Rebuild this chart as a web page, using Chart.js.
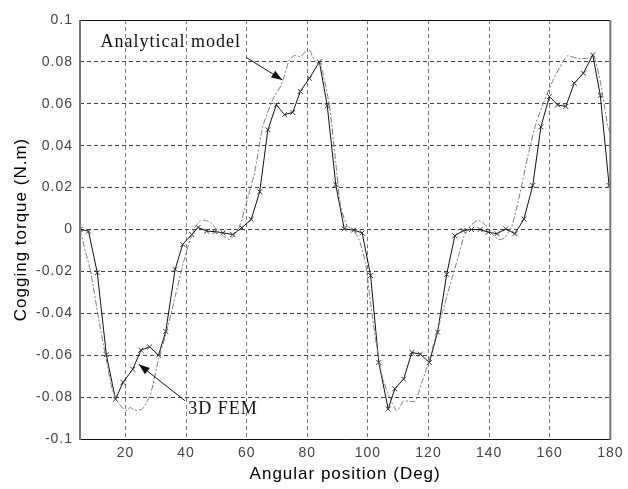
<!DOCTYPE html>
<html>
<head>
<meta charset="utf-8">
<script src="https://cdn.jsdelivr.net/npm/chart.js@4.4.0/dist/chart.umd.min.js"></script>
<style>
  html, body { margin: 0; padding: 0; background: #fff; }
  #wrap { width: 628px; height: 489px; }
</style>
</head>
<body>
<div id="wrap"><canvas id="myChart" width="628" height="489"></canvas></div>
<script>
// valeurs
const femAngle = [5, 7.8, 10.7, 13.7, 16.7, 19.2, 22.4, 25.1, 28, 30.9, 33.3, 36.4, 38.9, 41.9, 44,
  46.8, 49.5, 52.2, 55.4, 58.4, 61.5, 64.3, 67, 69.8, 72.5, 75.2, 77.7, 80.7, 84, 86.6,
  89.4, 92.2, 95.3, 98.1, 100.9, 103.6, 106.7, 108.9, 111.8, 114.5, 117.3, 120.3, 123, 126, 128.7,
  131.4, 134.2, 137, 139.7, 142.6, 145.5, 148.5, 151.5, 154.4, 157.1, 159.9, 162.6, 165.3, 168.1, 171.1,
  174.2, 176.7, 179.6];
const femTorque = [0, -0.0008, -0.0206, -0.0598, -0.081, -0.073, -0.0667, -0.0576, -0.056, -0.060, -0.0487, -0.019, -0.0071, -0.0024, 0.001,
  -0.0008, -0.001, -0.0016, -0.0024, 0.0008, 0.0048, 0.018, 0.0476, 0.0595, 0.0548, 0.0559, 0.0659, 0.0722, 0.080, 0.059,
  0.0214, 0.0003, -0.0003, -0.0016, -0.022, -0.0635, -0.0857, -0.076, -0.0714, -0.0587, -0.0595, -0.0635, -0.049, -0.0214, -0.003,
  -0.0005, 0, 0, -0.0013, -0.002, 0.0003, -0.002, 0.005, 0.021, 0.049, 0.0635, 0.0595, 0.0587, 0.0698, 0.0746,
  0.0833, 0.064, 0.021];

const modelAngle = [5, 6.9, 8.5, 11.2, 13.4, 15.6, 17.3, 20, 21.6, 23, 25.5, 28.2, 30.9, 33.7, 36.4,
  39.1, 41.3, 43, 44.6, 46.2, 48.4, 50, 52.2, 54.4, 56, 57.7, 59.9, 62.6, 65.3, 68.6,
  71.4, 74.1, 75.7, 77.9, 80.3, 82.3, 84.5, 87.2, 89.4, 91, 93.2, 95, 97.1, 99.2, 100.9,
  102.5, 104.7, 107.4, 109.6, 111.8, 113.4, 115.6, 117.8, 120, 122.2, 124.9, 127.6, 129.9, 131.5, 133.7,
  136.4, 138.6, 140.2, 143, 145.1, 147.5, 150, 152.8, 155.5, 158.3, 161, 164.3, 165.9, 169.2, 172.5,
  174.6, 176.8, 179.2, 180];
const modelTorque = [0, -0.011, -0.020, -0.043, -0.060, -0.076, -0.082, -0.0865, -0.085, -0.0862, -0.0857, -0.079, -0.062, -0.048, -0.032,
  -0.016, -0.005, 0.001, 0.004, 0.0044, 0.003, 0, -0.003, -0.0048, -0.0024, 0.0016, 0.0127, 0.027, 0.049, 0.062,
  0.069, 0.081, 0.083, 0.0825, 0.0865, 0.081, 0.0778, 0.060, 0.0318, 0.011, 0.0016, 0, -0.0048, -0.016, -0.035,
  -0.052, -0.070, -0.081, -0.0865, -0.0818, -0.082, -0.082, -0.073, -0.0635, -0.052, -0.038, -0.024, -0.0127, -0.004, 0.0016,
  0.0044, 0.0024, -0.0008, -0.0048, -0.004, 0.0016, 0.016, 0.035, 0.0508, 0.0617, 0.071, 0.080, 0.0829, 0.0817, 0.0817,
  0.0825, 0.0698, 0.049, 0.046];

const xTicks = [20, 40, 60, 80, 100, 120, 140, 160, 180];
const yTicks = [-0.1, -0.08, -0.06, -0.04, -0.02, 0, 0.02, 0.04, 0.06, 0.08, 0.1];

// étiquettes avec flèche (coordonnées en données)
const notes = [
  { text: 'Analytical model', x: 11.8, y: 0.0895, from: [60, 0.082], to: [71.8, 0.0714] },
  { text: '3D FEM', x: 40.7, y: -0.0857, from: [39.7, -0.0818], to: [24.4, -0.0643] }
];

const toPoints = (xs, ys) => xs.map((v, i) => ({ x: v, y: ys[i] }));

// cadre + annotations
const boxPlugin = {
  id: 'boxPlugin',
  beforeDraw(chart) {
    chart.ctx.letterSpacing = '1px';
  },
  afterDraw(chart) {
    const ctx = chart.ctx;
    const a = chart.chartArea;
    const xs = chart.scales.x, ys = chart.scales.y;
    ctx.save();
    ctx.letterSpacing = '0px';
    ctx.lineWidth = 1;
    ctx.strokeStyle = '#111';
    ctx.beginPath();
    ctx.moveTo(a.left, a.top + 0.5); ctx.lineTo(a.right, a.top + 0.5);
    ctx.moveTo(a.left, a.bottom + 0.5); ctx.lineTo(a.right, a.bottom + 0.5);
    ctx.stroke();
    ctx.strokeStyle = '#777';
    ctx.lineWidth = 2;
    ctx.beginPath();
    ctx.moveTo(a.left, a.top); ctx.lineTo(a.left, a.bottom + 1);
    ctx.moveTo(a.right, a.top); ctx.lineTo(a.right, a.bottom + 1);
    ctx.stroke();

    ctx.fillStyle = '#111';
    ctx.strokeStyle = '#111';
    ctx.lineWidth = 1;
    ctx.font = '18px "Liberation Serif", "Times New Roman", serif';
    ctx.textBaseline = 'middle';
    ctx.textAlign = 'left';
    notes.forEach(n => {
      ctx.letterSpacing = '1px';
      ctx.fillText(n.text, xs.getPixelForValue(n.x), ys.getPixelForValue(n.y));
      ctx.letterSpacing = '0px';
      const x1 = xs.getPixelForValue(n.from[0]), y1 = ys.getPixelForValue(n.from[1]);
      const x2 = xs.getPixelForValue(n.to[0]), y2 = ys.getPixelForValue(n.to[1]);
      const ang = Math.atan2(y2 - y1, x2 - x1);
      ctx.beginPath();
      ctx.moveTo(x1, y1); ctx.lineTo(x2, y2);
      ctx.stroke();
      ctx.beginPath();
      ctx.moveTo(x2, y2);
      ctx.lineTo(x2 - 11 * Math.cos(ang) + 4 * Math.sin(ang), y2 - 11 * Math.sin(ang) - 4 * Math.cos(ang));
      ctx.lineTo(x2 - 11 * Math.cos(ang) - 4 * Math.sin(ang), y2 - 11 * Math.sin(ang) + 4 * Math.cos(ang));
      ctx.closePath();
      ctx.fill();
    });
    ctx.restore();
  }
};

const tickFont = { family: '"Liberation Sans", Arial, sans-serif', size: 14 };
const titleFont = { family: '"Liberation Sans", Arial, sans-serif', size: 17 };

const ctx = document.getElementById('myChart').getContext('2d');
const chart = new Chart(ctx, {
  type: 'scatter',
  data: {
    datasets: [
      {
        label: 'Analytical model',
        data: toPoints(modelAngle, modelTorque),
        showLine: true,
        borderColor: '#7a7a7a',
        borderWidth: 1,
        borderDash: [6, 2, 2, 2],
        pointRadius: 0,
        tension: 0.2
      },
      {
        label: '3D FEM',
        data: toPoints(femAngle, femTorque),
        showLine: true,
        borderColor: '#111',
        borderWidth: 1,
        pointStyle: 'crossRot',
        pointRadius: 3.5,
        pointBorderColor: '#333',
        pointBorderWidth: 1,
        tension: 0
      }
    ]
  },
  options: {
    responsive: false,
    animation: false,
    layout: { padding: { top: 20, right: 15, left: 0, bottom: 0 } },
    plugins: { legend: { display: false }, tooltip: { enabled: false } },
    scales: {
      x: {
        type: 'linear',
        min: 5,
        max: 180,
        afterBuildTicks: s => { s.ticks = xTicks.map(v => ({ value: v })); },
        afterFit: s => { s.height = 50; },
        grid: { color: '#777', lineWidth: 1, drawTicks: false },
        border: { display: false, dash: [4, 3] },
        ticks: { color: '#444', font: tickFont, padding: 6, maxRotation: 0 },
        title: { display: true, text: 'Angular position (Deg)', color: '#000', font: titleFont, padding: { top: 0, bottom: 4 } }
      },
      y: {
        min: -0.1,
        max: 0.1,
        afterBuildTicks: s => { s.ticks = yTicks.map(v => ({ value: v })); },
        afterFit: s => { s.width = 80; },
        grid: { color: '#444', lineWidth: 1, drawTicks: false },
        border: { display: false, dash: [4, 3] },
        ticks: {
          color: '#444', font: tickFont, padding: 7,
          callback: v => String(Number(v.toFixed(2)))
        },
        title: { display: true, text: 'Cogging torque (N.m)', color: '#000', font: titleFont, padding: { top: 11, bottom: 0 } }
      }
    }
  },
  plugins: [boxPlugin]
});
</script>
</body>
</html>
